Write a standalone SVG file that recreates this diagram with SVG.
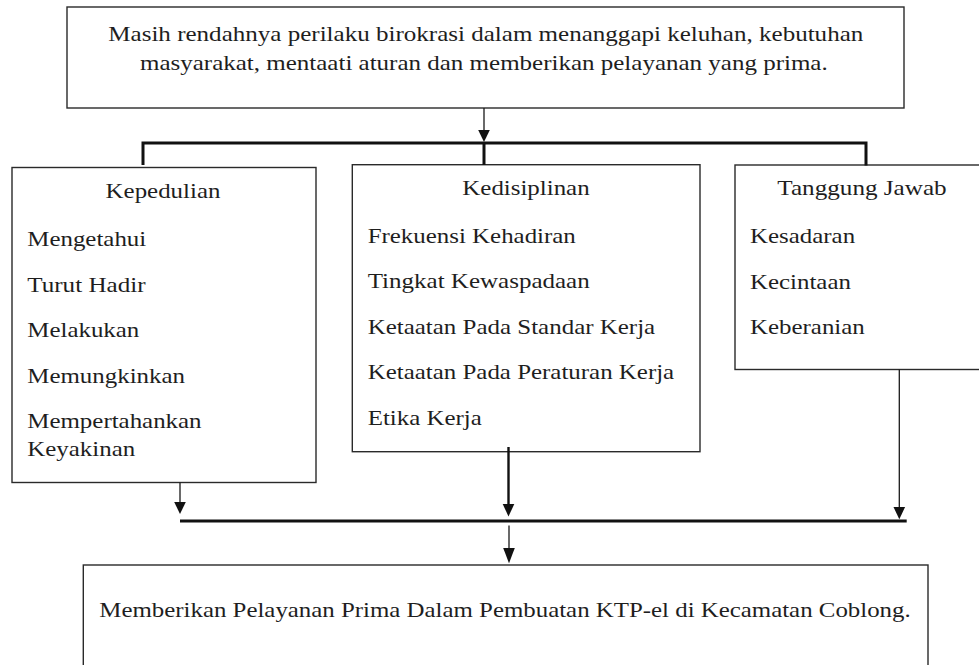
<svg xmlns="http://www.w3.org/2000/svg" width="979" height="665" viewBox="0 0 979 665">
  <style>
    .box { fill: #ffffff; stroke: #2a2a2a; stroke-width: 1.4; }
    .t { font-family: "Liberation Serif", "Times New Roman", serif; font-size: 21px; fill: #1e1e1e; }
    .c { text-anchor: middle; }
    .thin { fill: none; stroke: #1a1a1a; stroke-width: 1.3; }
    .thick { fill: none; stroke: #111111; stroke-width: 3; }
    .mid { fill: none; stroke: #111111; stroke-width: 2.4; }
    .head { fill: #111111; stroke: none; }
  </style>
  <rect width="979" height="665" fill="#ffffff"/>

  <g id="node-problem">
    <rect class="box" x="67" y="7" width="837" height="101"/>
    <text class="t" x="108.3" y="40.5" textLength="755" lengthAdjust="spacingAndGlyphs">Masih rendahnya perilaku birokrasi dalam menanggapi keluhan, kebutuhan</text>
    <text class="t" x="140" y="69.5" textLength="687.7" lengthAdjust="spacingAndGlyphs">masyarakat, mentaati aturan dan memberikan pelayanan yang prima.</text>
  </g>

  <g id="node-kepedulian">
    <rect class="box" x="12" y="167.5" width="304" height="315"/>
    <text class="t c" x="163" y="198" textLength="114.8" lengthAdjust="spacingAndGlyphs">Kepedulian</text>
    <text class="t" x="27.3" y="246" textLength="118.9" lengthAdjust="spacingAndGlyphs">Mengetahui</text>
    <text class="t" x="27.3" y="291.5" textLength="118.2" lengthAdjust="spacingAndGlyphs">Turut Hadir</text>
    <text class="t" x="27.3" y="337" textLength="112" lengthAdjust="spacingAndGlyphs">Melakukan</text>
    <text class="t" x="27.3" y="382.5" textLength="157.7" lengthAdjust="spacingAndGlyphs">Memungkinkan</text>
    <text class="t" x="27.3" y="428" textLength="174.3" lengthAdjust="spacingAndGlyphs">Mempertahankan</text>
    <text class="t" x="27.3" y="456" textLength="107.9" lengthAdjust="spacingAndGlyphs">Keyakinan</text>
  </g>

  <g id="node-kedisiplinan">
    <rect class="box" x="352.3" y="164.7" width="347.7" height="287"/>
    <text class="t c" x="526" y="195" textLength="127.3" lengthAdjust="spacingAndGlyphs">Kedisiplinan</text>
    <text class="t" x="367.7" y="242.7" textLength="208.1" lengthAdjust="spacingAndGlyphs">Frekuensi Kehadiran</text>
    <text class="t" x="367.7" y="288" textLength="222" lengthAdjust="spacingAndGlyphs">Tingkat Kewaspadaan</text>
    <text class="t" x="367.7" y="333.5" textLength="287.5" lengthAdjust="spacingAndGlyphs">Ketaatan Pada Standar Kerja</text>
    <text class="t" x="367.7" y="379" textLength="306.5" lengthAdjust="spacingAndGlyphs">Ketaatan Pada Peraturan Kerja</text>
    <text class="t" x="367.7" y="425" textLength="114.1" lengthAdjust="spacingAndGlyphs">Etika Kerja</text>
  </g>

  <g id="node-tanggung-jawab">
    <rect class="box" x="735" y="165" width="250" height="204.5"/>
    <text class="t c" x="862" y="195" textLength="169.4" lengthAdjust="spacingAndGlyphs">Tanggung Jawab</text>
    <text class="t" x="750" y="243.3" textLength="105.1" lengthAdjust="spacingAndGlyphs">Kesadaran</text>
    <text class="t" x="750" y="289.3" textLength="100.9" lengthAdjust="spacingAndGlyphs">Kecintaan</text>
    <text class="t" x="750" y="334.3" textLength="114.8" lengthAdjust="spacingAndGlyphs">Keberanian</text>
  </g>

  <g id="node-result">
    <rect class="box" x="83.3" y="565" width="844.7" height="120"/>
    <text class="t" x="99.3" y="616.7" textLength="811.4" lengthAdjust="spacingAndGlyphs">Memberikan Pelayanan Prima Dalam Pembuatan KTP-el di Kecamatan Coblong.</text>
  </g>

  <g id="connectors">
    <!-- problem to bracket -->
    <line class="thin" x1="484" y1="108" x2="484" y2="131"/>
    <polygon class="head" points="478.2,130 489.8,130 484,142"/>
    <!-- top bracket -->
    <polyline class="thick" points="143,165 143,143 866,143 866,165.5"/>
    <line class="thick" x1="484" y1="142" x2="484" y2="165"/>
    <!-- branches down to collector bar -->
    <line class="thin" x1="180" y1="482.5" x2="180" y2="503"/>
    <polygon class="head" points="174.2,502 185.8,502 180,514"/>
    <line class="mid" x1="508.5" y1="447" x2="508.5" y2="505"/>
    <polygon class="head" points="502.7,504 514.3,504 508.5,516.5"/>
    <line class="thin" x1="899.3" y1="369.5" x2="899.3" y2="508"/>
    <polygon class="head" points="893.5,507 905.1,507 899.3,519.3"/>
    <!-- collector bar -->
    <line class="thick" x1="180" y1="521" x2="906.7" y2="521"/>
    <!-- bar to result -->
    <line class="thin" x1="509" y1="525.5" x2="509" y2="549"/>
    <polygon class="head" points="503.2,548 514.8,548 509,563.3"/>
  </g>
</svg>
